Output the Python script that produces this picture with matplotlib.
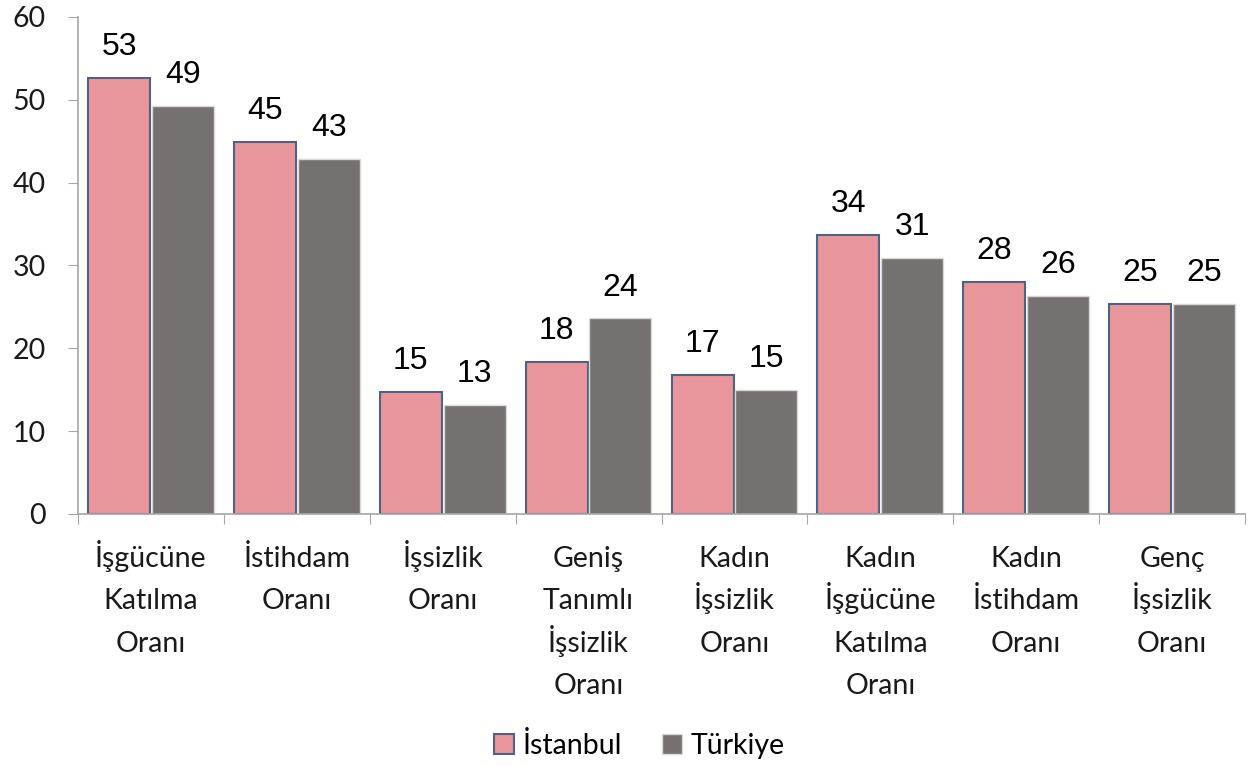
import numpy as np
import matplotlib.pyplot as plt
import matplotlib.transforms as mtransforms

# veriler
kategoriler = ["İşgücüne\nKatılma\nOranı", "İstihdam\nOranı", "İşsizlik\nOranı",
               "Geniş\nTanımlı\nİşsizlik\nOranı", "Kadın\nİşsizlik\nOranı",
               "Kadın\nİşgücüne\nKatılma\nOranı", "Kadın\nİstihdam\nOranı",
               "Genç\nİşsizlik\nOranı"]
istanbul = [52.6, 44.9, 14.7, 18.3, 16.8, 33.7, 28.0, 25.3]
turkiye = [49.3, 42.8, 13.2, 23.6, 15.0, 30.9, 26.3, 25.3]
seriler = ["İstanbul", "Türkiye"]

plt.rcParams['font.family'] = ['Lato', 'DejaVu Sans']

fig = plt.figure(figsize=(12.58, 7.66), dpi=100)
ax = fig.add_axes([0.062, 0.329, 0.9277, 0.649])

x = np.arange(len(kategoriler))
w = 0.425
b1 = ax.bar(x - w/2 - 0.006, istanbul, w, color='#e8959c', edgecolor='#4a6481', linewidth=1.5, label=seriler[0])
b2 = ax.bar(x + w/2 + 0.006, turkiye, w, color='#767171', edgecolor='#d9d9d9', linewidth=1.0, label=seriler[1])

# değer etiketleri
for bars, vals in [(b1, istanbul), (b2, turkiye)]:
    for r, v in zip(bars, vals):
        ax.annotate(f"{round(v):.0f}", (r.get_x() + r.get_width()/2, v),
                    xytext=(0, 16.5), textcoords='offset points', ha='center', va='baseline',
                    fontsize=23, color='black', family=['Liberation Sans', 'DejaVu Sans'])

ax.set_xlim(-0.5, len(kategoriler) - 0.5)
ax.set_ylim(0, 60)
ax.set_yticks(range(0, 61, 10))
ax.tick_params(axis='y', length=7, color='#a6a6a6', labelsize=20.5, pad=16, labelcolor='#1a1a1a')

ax.set_xticks(np.arange(-0.5, len(kategoriler), 1))
ax.set_xticklabels([])
ax.tick_params(axis='x', length=7, color='#a6a6a6')

# kategori etiketleri, satır satır (eşit satır aralığı için)
trans = mtransforms.blended_transform_factory(ax.transData, ax.transAxes)
for xi, lab in zip(x, kategoriler):
    for k, line in enumerate(lab.split("\n")):
        off = mtransforms.offset_copy(trans, fig=fig, x=0, y=-(38 + 30.6 * k), units='points')
        ax.text(xi, 0, line, transform=off, ha='center', va='baseline',
                fontsize=20.5, color='#1a1a1a')

for s in ['top', 'right']:
    ax.spines[s].set_visible(False)
ax.spines['left'].set_color('#a6a6a6')
ax.spines['bottom'].set_color('#a6a6a6')
ax.spines['left'].set_linewidth(1.2)
ax.spines['bottom'].set_linewidth(1.2)

fig.legend(handles=[b1, b2], labels=seriler, loc='center', bbox_to_anchor=(0.508, 0.027),
           ncol=2, frameon=False, handlelength=0.7, handleheight=0.7,
           handletextpad=0.3, columnspacing=1.4, prop={'size': 20.5})

fig.savefig("out.png", dpi=100)
